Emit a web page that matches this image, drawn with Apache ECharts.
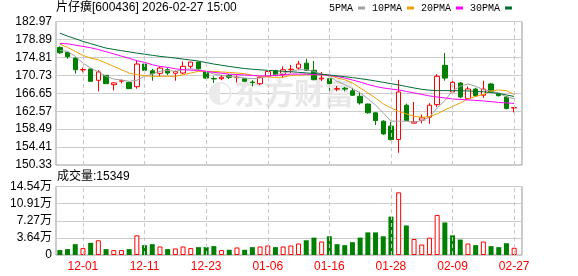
<!DOCTYPE html>
<html><head><meta charset="utf-8">
<script src="https://cdn.jsdelivr.net/npm/echarts@6/dist/echarts.min.js"></script>
<style>html,body{margin:0;padding:0;background:#fff}#c{width:578px;height:276px}</style>
</head><body><div id="c"></div>
<script>
const dates = ['11-26','11-27','11-28','12-01','12-02','12-03','12-04','12-05','12-08','12-09','12-10','12-11','12-12','12-15','12-16','12-17','12-18','12-19','12-22','12-23','12-24','12-25','12-26','12-29','12-30','12-31','01-05','01-06','01-07','01-08','01-09','01-12','01-13','01-14','01-15','01-16','01-19','01-20','01-21','01-22','01-23','01-26','01-27','01-28','01-29','01-30','02-02','02-03','02-04','02-05','02-06','02-09','02-10','02-11','02-12','02-13','02-24','02-25','02-26','02-27'];
// [open, close, low, high]
const ohlc = [
[177.08,175.86,175.6,177.3],[175.94,174.95,174.5,176.0],[174.65,172.0,171.1,174.7],[171.95,172.05,171.4,172.5],
[172.16,169.37,169.3,172.2],[169.6,171.5,167.1,171.9],[170.73,168.83,168.8,170.8],[168.6,169.0,167.3,169.2],
[169.4,169.5,168.9,169.8],[169.1,167.7,167.6,169.2],[168.14,173.29,167.69,174.13],[173.29,171.86,171.25,173.3],
[171.77,171.09,169.5,172.2],[171.18,172.38,170.5,172.77],[172.0,171.25,170.8,172.5],[171.2,171.6,169.5,171.8],
[171.25,172.77,171.0,173.9],[172.77,173.74,172.2,173.8],[173.74,172.22,172.0,173.8],[171.6,170.1,169.9,171.6],
[170.0,169.9,168.98,170.5],[169.96,170.3,169.6,170.8],[170.73,170.27,169.9,171.0],[170.2,170.3,169.1,170.7],
[169.96,169.37,169.2,170.0],[169.2,169.1,168.2,169.6],[168.83,170.27,168.5,170.4],[170.5,171.6,170.3,171.8],
[171.77,170.73,170.5,172.0],[170.86,172.0,170.1,172.77],[172.0,172.1,171.25,173.1],[172.38,173.29,172.0,174.0],
[173.5,171.86,171.7,174.5],[171.86,169.73,169.6,174.0],[169.9,170.1,169.4,171.5],[169.96,168.83,167.2,170.1],
[167.6,167.7,167.1,168.3],[167.8,167.6,167.1,168.1],[167.2,166.2,166.1,167.9],[165.97,164.45,164.06,167.0],
[164.2,162.2,162.0,164.3],[162.2,160.44,159.4,162.3],[160.3,157.4,157.2,160.5],[159.17,156.13,155.9,160.14],
[156.13,166.94,153.1,169.7],[163.93,160.44,160.3,164.3],[159.85,160.14,159.8,164.67],[160.53,161.05,159.8,161.8],
[161.2,163.93,159.7,164.4],[164.06,170.5,163.5,171.0],[173.0,170.1,169.5,175.8],[166.94,169.14,166.8,170.1],
[168.98,165.8,165.5,169.2],[165.42,167.62,165.3,168.2],[167.6,166.1,165.8,167.9],[166.2,167.6,165.6,169.5],
[168.76,166.94,166.8,169.0],[166.5,166.1,165.9,166.7],[165.8,163.2,163.0,166.0],[163.3,163.4,162.3,163.5]
];
const ma5 = [176.40,176.17,175.04,173.52,172.38,171.48,170.50,169.89,169.66,169.37,169.6,170.5,171.02,171.63,171.86,171.63,172.0,172.22,172.0,171.63,171.02,170.73,170.5,170.27,170.12,169.96,170.12,170.5,170.86,171.25,171.63,172.0,172.0,171.63,171.02,170.5,169.37,168.6,167.69,166.72,165.42,163.93,162.18,160.3,160.3,160.3,160.07,160.44,161.2,163.3,164.97,167.24,168.23,168.76,168.23,167.47,167.1,166.72,165.8,165.42];
const ma10 = [177.82,177.08,176.17,175.26,174.65,174.26,173.52,172.77,172.0,171.25,170.86,170.64,170.5,170.5,170.5,170.5,170.86,171.25,171.63,171.63,171.63,171.48,171.4,171.25,171.1,170.73,170.5,170.35,170.27,170.27,170.73,170.73,170.86,170.86,170.86,170.73,170.12,169.73,168.98,167.85,166.72,165.58,164.22,163.3,162.52,161.96,161.4,161.2,161.34,161.96,162.86,163.65,164.45,165.35,165.92,166.37,167.17,167.4,167.24,166.37];
const ma20 = [177.98,177.9,177.6,177.3,177.0,176.6,176.1,175.6,175.1,174.6,174.05,173.67,173.14,172.76,172.53,172.23,172.0,171.9,171.85,171.63,171.4,171.2,171.0,170.9,170.8,170.7,170.6,170.6,170.7,170.8,171.02,171.02,171.02,170.9,170.86,170.73,170.45,170.12,169.66,169.21,168.64,168.19,167.85,167.62,167.4,167.06,166.72,166.38,166.04,165.81,165.58,165.36,165.24,165.13,165.02,164.9,164.74,164.56,164.45,164.33];
const ma30 = [180.32,179.64,179.07,178.44,177.94,177.42,176.92,176.62,176.33,176.06,175.78,175.53,175.28,175.04,174.85,174.65,174.42,174.2,173.97,173.63,173.29,173.02,172.75,172.5,172.27,172.11,171.98,171.86,171.75,171.64,171.54,171.41,171.27,171.14,170.98,170.8,170.62,170.43,170.21,169.98,169.73,169.44,169.14,168.82,168.53,168.19,167.85,167.55,167.35,167.26,167.24,167.24,167.21,167.17,167.08,166.99,166.81,166.6,166.26,165.92];
const volumes = [10400,12500,23000,14600,25800,31300,12500,10400,10400,12500,41800,20900,23000,18100,12500,13900,18100,14600,16700,16700,18800,10400,11100,16000,11100,16700,18100,20200,16700,18100,20200,24400,31300,36900,28600,39700,23000,20900,27200,36900,48000,48000,39700,81500,133000,62700,34000,22300,36900,85000,69000,41800,32800,24400,20900,28600,18800,16700,25000,15349];
// 1 = up (red hollow), -1 = down (green)
const volDir = [-1,-1,-1,1,-1,1,-1,1,1,-1,1,-1,-1,1,-1,1,1,1,-1,-1,-1,1,-1,1,-1,-1,1,1,-1,1,1,1,-1,-1,1,-1,-1,-1,-1,-1,-1,-1,-1,-1,1,-1,1,1,1,1,-1,-1,-1,1,-1,1,-1,-1,-1,1];
const labelDates = ['12-01','12-11','12-23','01-06','01-16','01-28','02-09','02-27'];
const priceMin = 150.33, priceMax = 182.97, priceStep = 4.08;
const volMin = 0, volMax = 145408, volStep = 36352;
const lastVolume = 15349;
const titleText = '片仔癀[600436] 2026-02-27 15:00';
const legendNames = ['5PMA','10PMA','20PMA','30PMA'];

const FONT = "'Liberation Sans','Noto Sans CJK SC',sans-serif";
const RED = '#ff0000', GREEN = '#008000';
const chart = echarts.init(document.getElementById('c'));
const vlines = {
  silent: true, symbol: ['none','none'], label: {show:false},
  lineStyle: {color:'#c8c8c8', type:[4,3], width:1},
  data: labelDates.map(d => ({xAxis: d}))
};
const maColors = ['#a0a0a0','#f0a000','#ff00ff','#006b33'];
const maData = [ma5, ma10, ma20, ma30];
chart.setOption({
  animation: false,
  title: {text: titleText, left: 56, top: 2, padding: 0,
    textStyle: {fontSize: 12, fontWeight: 'normal', color: '#000', fontFamily: FONT}},
  legend: {data: legendNames, right: 66, top: 3, padding: 0,
    align: 'right', icon: 'rect', itemWidth: 7, itemHeight: 3, itemGap: 7,
    textStyle: {fontSize: 10, color: '#000', fontFamily: "'Liberation Mono',monospace"}},
  graphic: [
    {type:'text', left: 57, top: 171, style:{text: '成交量:' + lastVolume, font: '12px ' + FONT, fill:'#000'}},
    {type:'text', left: 207, top: 78, z: 1, silent: true, style:{text:'◐', font:"bold 30px 'DejaVu Sans'", fill:'#ebebeb'}},
    {type:'text', left: 234, top: 78, z: 1, silent: true, style:{text:'东方财富', font:"bold 30px 'Noto Sans CJK SC'", fill:'#e8e8e8'}}
  ],
  grid: [
    {left: 56, top: 21.5, width: 466, height: 143.5, show: true, borderColor: '#999', borderWidth: 1},
    {left: 56, top: 21.5, width: 462, height: 143.5},
    {left: 56, top: 186.5, width: 466, height: 68.5, show: true, borderColor: '#999', borderWidth: 1},
    {left: 56, top: 186.5, width: 462, height: 68.5}
  ],
  xAxis: [
    {gridIndex: 0, type: 'category', data: dates, show: false},
    {gridIndex: 1, type: 'category', data: dates, show: false},
    {gridIndex: 2, type: 'category', data: dates, show: false},
    {gridIndex: 3, type: 'category', data: dates,
      axisLine: {show: false}, axisTick: {show: false}, splitLine: {show: false},
      axisLabel: {interval: (i) => (i - 3) % 8 === 0, color: RED, fontSize: 12, margin: 6, fontFamily: FONT}}
  ],
  yAxis: [
    {gridIndex: 0, type: 'value', min: priceMin, max: priceMax, interval: priceStep,
      axisLine: {show: false}, axisTick: {show: false},
      splitLine: {lineStyle: {color: '#cccccc'}},
      axisLabel: {formatter: v => v.toFixed(2), color: '#000', fontSize: 12, margin: 4, fontFamily: FONT}},
    {gridIndex: 1, type: 'value', min: priceMin, max: priceMax, show: false},
    {gridIndex: 2, type: 'value', min: volMin, max: volMax, interval: volStep,
      axisLine: {show: false}, axisTick: {show: false},
      splitLine: {lineStyle: {color: '#cccccc'}},
      axisLabel: {formatter: v => v === 0 ? '0' : (v / 10000).toFixed(2) + '万', color: '#000', fontSize: 12, margin: 4, fontFamily: FONT}},
    {gridIndex: 3, type: 'value', min: volMin, max: volMax, show: false}
  ],
  series: [
    {type: 'candlestick', xAxisIndex: 1, yAxisIndex: 1, data: ohlc, barWidth: 5, z: 3,
      itemStyle: {color: '#ffffff', color0: GREEN, borderColor: RED, borderColor0: GREEN, borderWidth: 1},
      markLine: vlines}
  ].concat(legendNames.map((n, k) => ({
      name: n, type: 'line', xAxisIndex: 1, yAxisIndex: 1, data: maData[k], symbol: 'none', z: 4,
      lineStyle: {width: 1, color: maColors[k]}, itemStyle: {color: maColors[k]}
  }))).concat([
    {type: 'bar', xAxisIndex: 3, yAxisIndex: 3, barWidth: 5, z: 3,
      data: volumes.map((v, i) => ({value: v, itemStyle: volDir[i] > 0
        ? {color: '#ffffff', borderColor: RED, borderWidth: 1}
        : {color: GREEN}})),
      markLine: vlines}
  ])
});
</script></body></html>
